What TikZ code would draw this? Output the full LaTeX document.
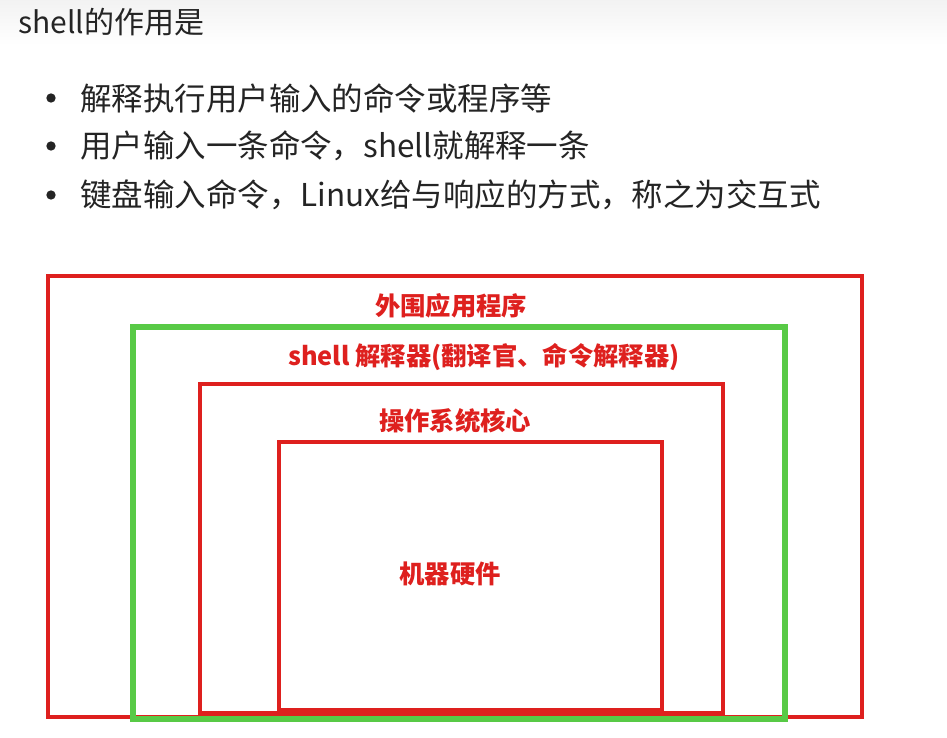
\documentclass[tikz,border=0pt]{standalone}
\usepackage{fontspec}
\setmainfont{Noto Sans CJK SC}
\definecolor{boxred}{RGB}{222,32,30}
\definecolor{shellgreen}{RGB}{88,202,70}
\definecolor{textgray}{RGB}{36,36,36}

\begin{document}
\begin{tikzpicture}[x=0.75pt, y=-0.75pt,
	title/.style={anchor=west, inner sep=0pt, text=textgray, font=\fontsize{22.5}{27}\selectfont},
	item/.style={anchor=west, inner sep=0pt, text=textgray, font=\fontsize{23.6}{28}\selectfont},
	dot/.style={circle, fill=textgray, inner sep=0pt, minimum size=7pt},
	layer/.style={text=boxred, inner sep=0pt, font=\fontsize{19}{23}\selectfont\bfseries},
	redbox/.style={draw=boxred, line width=3pt},
	greenbox/.style={draw=shellgreen, line width=5pt}]
	\useasboundingbox (0,0) rectangle (947,738);
	\shade[top color=black!5, bottom color=white] (0,0) rectangle (947,45);

	\node[title] (T) at (18,22) {shell的作用是};

	\node[dot] (d1) at (51,98) {};
	\node[item] (i1) at (80,98) {解释执行用户输入的命令或程序等};
	\node[dot] (d2) at (51,146) {};
	\node[item] (i2) at (80,146) {用户输入一条命令，shell就解释一条};
	\node[dot] (d3) at (51,195) {};
	\node[item] (i3) at (80,195) {键盘输入命令，Linux给与响应的方式，称之为交互式};

	% layers, outside in
	\draw[redbox] (48,276) rectangle (862,717);
	\draw[greenbox] (133,327) rectangle (785,719);
	\draw[redbox] (200,384) rectangle (723,713);
	\draw[redbox] (279,442) rectangle (662,711);
	\draw[boxred, line width=4pt] (279,711) -- (662,711);

	\node[layer] (app) at (451,306) {外围应用程序};
	\node[layer] (sh) at (484,357) {shell 解释器(翻译官、命令解释器)};
	\node[layer] (os) at (455,421) {操作系统核心};
	\node[layer] (hw) at (450,574) {机器硬件};
\end{tikzpicture}
\end{document}
